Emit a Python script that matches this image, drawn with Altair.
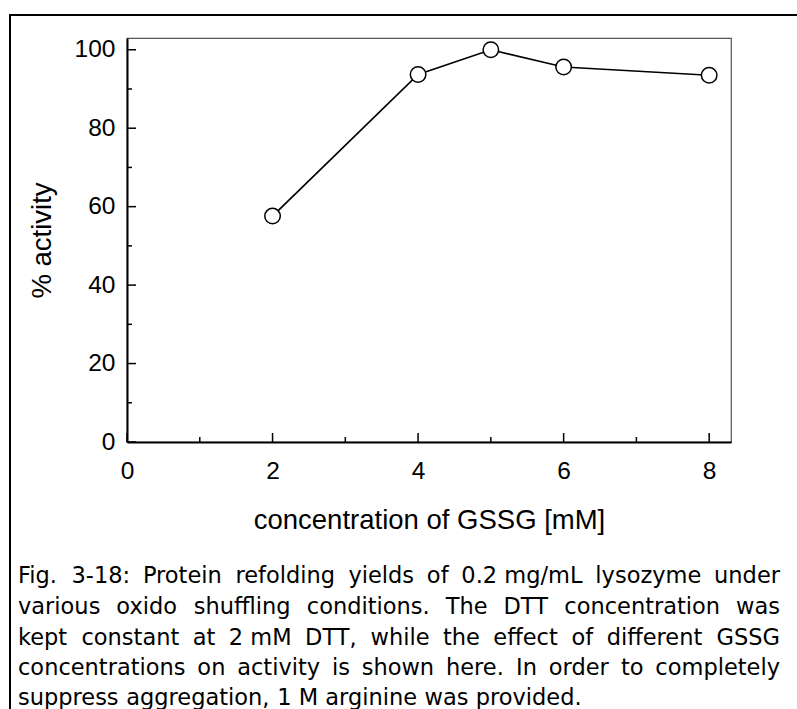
import altair as alt
import pandas as pd

# ---------------- data ----------------
conc = [2, 4, 5, 6, 8]
activity = [57.6, 93.7, 100.0, 95.6, 93.5]

x_major = [0, 2, 4, 6, 8]
x_minor = [1, 3, 5, 7]
y_major = [0, 20, 40, 60, 80, 100]
y_minor = [10, 30, 50, 70, 90]

x_title = "concentration of GSSG [mM]"
y_title = "% activity"

caption_lines = [
    ["Fig.", "3-18:", "Protein", "refolding", "yields", "of", "0.2\u00a0mg/mL", "lysozyme", "under"],
    ["various", "oxido", "shuffling", "conditions.", "The", "DTT", "concentration", "was"],
    ["kept", "constant", "at", "2\u00a0mM", "DTT,", "while", "the", "effect", "of", "different", "GSSG"],
    ["concentrations", "on", "activity", "is", "shown", "here.", "In", "order", "to", "completely"],
    ["suppress", "aggregation,", "1", "M", "arginine", "was", "provided."],
]

# ---------------- layout ----------------
L, T, W, H = 127, 38, 604, 404
TOTAL_W, TOTAL_H = 797, 709
AX_FONT = "Liberation Sans"
CAP_FONT = "DejaVu Sans"
CAP_SIZE = 22.5
CAP_X0, CAP_X1 = 18, 780
CAP_Y = [576, 607, 638, 668, 698]

# approximate DejaVu Sans advance widths (em)
_w = {" ": .318, "\u00a0": .318, ",": .318, "-": .361, ".": .318, "/": .337, ":": .337,
      "D": .770, "F": .575, "G": .775, "I": .295, "L": .557, "M": .863, "P": .603,
      "S": .635, "T": .611, "a": .613, "b": .635, "c": .550, "d": .635, "e": .615,
      "f": .352, "g": .635, "h": .634, "i": .278, "k": .579, "l": .278, "m": .974,
      "n": .634, "o": .612, "p": .635, "q": .635, "r": .411, "s": .521, "t": .392,
      "u": .634, "v": .592, "w": .818, "x": .592, "y": .592, "z": .525}


def text_width(s):
    return sum(_w.get(ch, .636) for ch in s) * CAP_SIZE


left_rows, right_rows = [], []
for i, words in enumerate(caption_lines):
    y = CAP_Y[i] - T
    if i == len(caption_lines) - 1:
        x = CAP_X0
        for wd in words:
            left_rows.append({"w": wd, "px": x - L, "py": y})
            x += text_width(wd) + text_width(" ")
    else:
        widths = [text_width(wd) for wd in words]
        gap = (CAP_X1 - CAP_X0 - sum(widths)) / (len(words) - 1)
        x = CAP_X0
        for j, wd in enumerate(words):
            if j == len(words) - 1:
                right_rows.append({"w": wd, "px": CAP_X1 - L, "py": y})
            else:
                left_rows.append({"w": wd, "px": x - L, "py": y})
            x += widths[j] + gap

df = pd.DataFrame({"conc": conc, "activity": activity})

xs = alt.Scale(domain=[0, 8.3], nice=False, zero=False)
ys = alt.Scale(domain=[0, 103], nice=False, zero=False)

x_axis = alt.Axis(values=x_major, format="d", title=x_title, grid=False, ticks=False, tickSize=0,
                  domainColor="black", domainWidth=2, labelFont=AX_FONT, labelFontSize=24.5,
                  labelColor="black", labelPadding=17, labelFlush=False, titleFont=AX_FONT,
                  titleFontSize=27.5, titleFontWeight="normal", titleColor="black",
                  titleY=78, titleBaseline="middle", titleX=W / 2)
y_axis = alt.Axis(values=y_major, format="d", title=y_title, grid=False, ticks=False, tickSize=0,
                  domainColor="black", domainWidth=2, labelFont=AX_FONT, labelFontSize=24.5,
                  labelColor="black", labelPadding=12, labelFlush=False, titleFont=AX_FONT,
                  titleFontSize=27.5, titleFontWeight="normal", titleColor="black",
                  titleX=42 - L, titleY=H / 2, titleBaseline="middle", titleAngle=270)

base = alt.Chart(df)
line = base.mark_line(color="black", strokeWidth=1.7).encode(
    x=alt.X("conc:Q", scale=xs, axis=x_axis),
    y=alt.Y("activity:Q", scale=ys, axis=y_axis),
)
points = base.mark_point(shape="circle", filled=True, fill="white", stroke="black",
                         strokeWidth=1.5, size=240, opacity=1).encode(
    x=alt.X("conc:Q", scale=xs),
    y=alt.Y("activity:Q", scale=ys),
)


def xticks(vals, length):
    return alt.Chart(pd.DataFrame({"t": vals})).mark_rule(color="black", strokeWidth=1.5).encode(
        x=alt.X("t:Q", scale=xs), y=alt.value(H), y2=alt.value(H - length))


def yticks(vals, length):
    return alt.Chart(pd.DataFrame({"t": vals})).mark_rule(color="black", strokeWidth=1.5).encode(
        y=alt.Y("t:Q", scale=ys), x=alt.value(0), x2=alt.value(length))


frame_left = alt.Chart(df).mark_rule(color="black", strokeWidth=2).encode(
    x=alt.value(10 - L), y=alt.value(15 - T), y2=alt.value(TOTAL_H - T + 5))
frame_top = alt.Chart(df).mark_rule(color="black", strokeWidth=2).encode(
    y=alt.value(15 - T), x=alt.value(9 - L), x2=alt.value(TOTAL_W - L + 5))

cap_left = alt.Chart(pd.DataFrame(left_rows)).mark_text(
    align="left", baseline="middle", font=CAP_FONT, fontSize=CAP_SIZE, color="black").encode(
    x=alt.X("px:Q", scale=None), y=alt.Y("py:Q", scale=None), text="w:N")
cap_right = alt.Chart(pd.DataFrame(right_rows)).mark_text(
    align="right", baseline="middle", font=CAP_FONT, fontSize=CAP_SIZE, color="black").encode(
    x=alt.X("px:Q", scale=None), y=alt.Y("py:Q", scale=None), text="w:N")

chart = alt.layer(
    line, points,
    xticks(x_major, 9), xticks(x_minor, 5), yticks(y_major, 9), yticks(y_minor, 5),
    frame_left, frame_top, cap_left, cap_right,
).properties(
    width=W, height=H,
    autosize=alt.AutoSizeParams(type="none"),
    padding={"left": L, "top": T, "right": TOTAL_W - L - W, "bottom": TOTAL_H - T - H},
    background="white",
).configure_view(stroke="#555555", strokeWidth=1.2)

chart.save("out.html", embed_options={"renderer": "svg", "actions": False})
